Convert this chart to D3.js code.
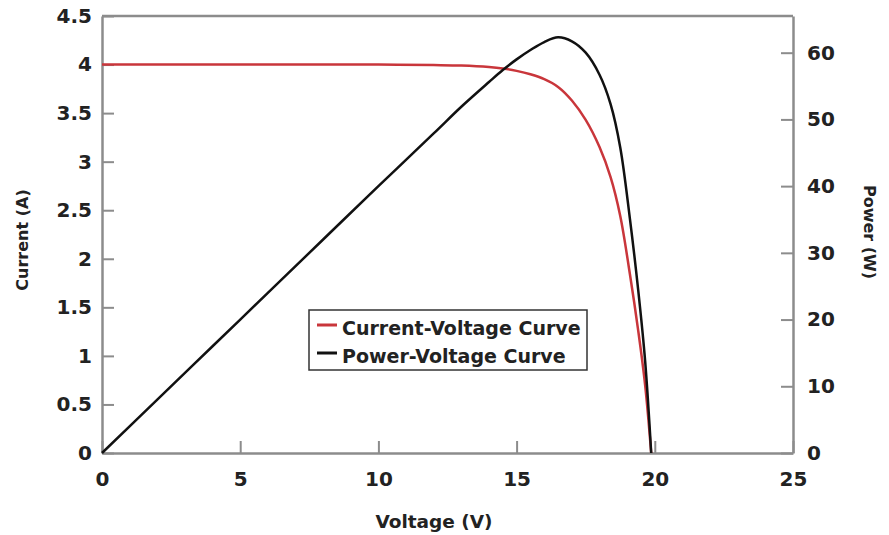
<!DOCTYPE html>
<html>
<head>
<meta charset="utf-8">
<script src="https://cdn.jsdelivr.net/npm/d3@7"></script>
<style>
  body { margin: 0; background: #fff; }
  text { font-family: "DejaVu Sans", Arial, sans-serif; font-weight: bold; fill: #222; }
</style>
</head>
<body>
<div id="chart"></div>
<script>
// values
var voltage = [0, 2, 4, 6, 8, 10, 12, 13, 14, 14.5, 15, 15.5, 16, 16.5, 17, 17.5, 18, 18.4, 18.75, 19.1, 19.4, 19.65, 19.87];
var current = [4.0, 4.0, 4.0, 4.0, 4.0, 4.0, 3.995, 3.99, 3.975, 3.96, 3.935, 3.90, 3.85, 3.77, 3.63, 3.43, 3.15, 2.84, 2.44, 1.84, 1.26, 0.70, 0];
var power = [0, 8, 16, 24, 32, 40, 47.9, 51.9, 55.6, 57.4, 59.0, 60.4, 61.6, 62.3, 61.7, 60.0, 56.7, 52.3, 45.8, 35.1, 24.4, 13.8, 0];
var xTicks = [0, 5, 10, 15, 20, 25];
var leftTicks = [0, 0.5, 1, 1.5, 2, 2.5, 3, 3.5, 4, 4.5];
var rightTicks = [0, 10, 20, 30, 40, 50, 60];
var legendLabels = ["Current-Voltage Curve", "Power-Voltage Curve"];
var colors = ["#c9363b", "#111"];

var width = 889, height = 535;
var plotLeft = 102, plotRight = 793, plotTop = 16, plotBottom = 453;

var svg = d3.select("#chart").append("svg")
  .attr("width", width)
  .attr("height", height);

var xScale = d3.scaleLinear().domain([0, 25]).range([plotLeft, plotRight]);
var yLeft = d3.scaleLinear().domain([0, 4.5]).range([plotBottom, plotTop]);
var yRight = d3.scaleLinear().domain([0, 65.5]).range([plotBottom, plotTop]);

var axisColor = "#8c8c8c";

// axes, ticks point into the plot
var xAxis = d3.axisBottom(xScale).tickValues(xTicks).tickSizeInner(-12).tickSizeOuter(0).tickPadding(19).tickFormat(d => d);
var lAxis = d3.axisLeft(yLeft).tickValues(leftTicks).tickSizeInner(-12).tickSizeOuter(0).tickPadding(10).tickFormat(d => d);
var rAxis = d3.axisRight(yRight).tickValues(rightTicks).tickSizeInner(-12).tickSizeOuter(0).tickPadding(14).tickFormat(d => d);

function styleAxis(g) {
  g.select(".domain").attr("stroke", axisColor).attr("stroke-width", 2.5);
  g.selectAll(".tick line").attr("stroke", axisColor).attr("stroke-width", 2);
  g.selectAll(".tick text").attr("font-size", 20).attr("fill", "#222")
    .attr("font-family", "'DejaVu Sans', Arial, sans-serif").attr("font-weight", "bold");
}

svg.append("g").attr("transform", `translate(0,${plotBottom})`).call(xAxis).call(styleAxis);
svg.append("g").attr("transform", `translate(${plotLeft},0)`).call(lAxis).call(styleAxis);
svg.append("g").attr("transform", `translate(${plotRight},0)`).call(rAxis).call(styleAxis);

// top border
svg.append("line")
  .attr("x1", plotLeft).attr("x2", plotRight)
  .attr("y1", plotTop).attr("y2", plotTop)
  .attr("stroke", axisColor).attr("stroke-width", 2.5);

// curves
var pts = voltage.map((v, i) => ({ v: v, i: current[i], p: power[i] }));

var ivLine = d3.line().x(d => xScale(d.v)).y(d => yLeft(d.i)).curve(d3.curveCatmullRom.alpha(0.5));
var pvLine = d3.line().x(d => xScale(d.v)).y(d => yRight(d.p)).curve(d3.curveCatmullRom.alpha(0.5));

svg.append("path").datum(pts)
  .attr("d", ivLine).attr("fill", "none")
  .attr("stroke", colors[0]).attr("stroke-width", 2.5);

svg.append("path").datum(pts)
  .attr("d", pvLine).attr("fill", "none")
  .attr("stroke", colors[1]).attr("stroke-width", 2.5);

// legend
var legend = svg.append("g").attr("transform", "translate(309,310)");
legend.append("rect")
  .attr("width", 278).attr("height", 60)
  .attr("fill", "#fff").attr("stroke", "#333").attr("stroke-width", 1.5);

legendLabels.forEach(function(label, k) {
  var yy = 15 + k * 28;
  legend.append("line")
    .attr("x1", 8).attr("x2", 28).attr("y1", yy).attr("y2", yy)
    .attr("stroke", colors[k]).attr("stroke-width", 3);
  legend.append("text")
    .attr("x", 33).attr("y", yy + 10)
    .attr("font-size", 19)
    .text(label);
});

// axis titles
svg.append("text")
  .attr("transform", "translate(28,240)rotate(-90)")
  .attr("text-anchor", "middle")
  .attr("font-size", 16)
  .text("Current (A)");

svg.append("text")
  .attr("transform", "translate(864,232)rotate(90)")
  .attr("text-anchor", "middle")
  .attr("font-size", 16)
  .text("Power (W)");

svg.append("text")
  .attr("x", 434).attr("y", 528)
  .attr("text-anchor", "middle")
  .attr("font-size", 18.5)
  .text("Voltage (V)");
</script>
</body>
</html>
